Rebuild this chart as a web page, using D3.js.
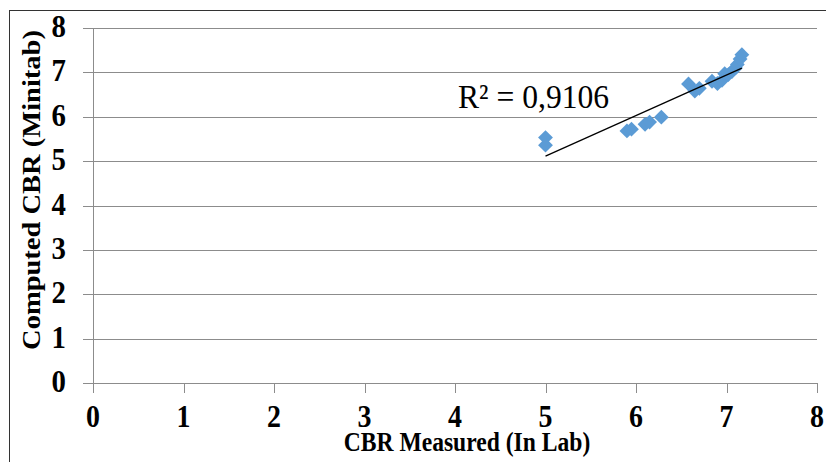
<!DOCTYPE html>
<html>
<head>
<meta charset="utf-8">
<script src="https://cdn.jsdelivr.net/npm/d3@7"></script>
<style>
  html, body { margin: 0; padding: 0; background: #fff; }
  svg { display: block; }
  text { font-family: "Liberation Serif", "Times New Roman", serif; fill: #000; }
</style>
</head>
<body>
<svg id="chart" width="826" height="462"></svg>
<script>
// ---- data ----
const measuredCBR = [5.0, 5.0, 5.9, 5.95, 6.1, 6.15, 6.28, 6.58, 6.65, 6.7, 6.84, 6.9, 6.95, 6.98, 7.02, 7.06, 7.1, 7.12, 7.15, 7.17];
const computedCBR = [5.53, 5.36, 5.68, 5.72, 5.83, 5.88, 5.99, 6.74, 6.58, 6.64, 6.8, 6.75, 6.82, 6.97, 6.95, 7.02, 7.1, 7.18, 7.3, 7.4];
const xTicks = [0, 1, 2, 3, 4, 5, 6, 7, 8];
const yTicks = [0, 1, 2, 3, 4, 5, 6, 7, 8];
const xTitle = "CBR Measured (In Lab)";
const yTitle = "Computed CBR (Minitab)";
const r2Label = "R² = 0,9106";

// ---- layout ----
const svg = d3.select("#chart");
const x = d3.scaleLinear().domain([0, 8]).range([93, 817]);
const y = d3.scaleLinear().domain([0, 8]).range([383, 28]);
const gridColor = "#8c8c8c";
const sx = 0.9; // horizontal condensing of text

// chart border (clipped at right/bottom like the reference)
svg.append("rect").attr("x", 9.5).attr("y", 10.5).attr("width", 900).attr("height", 600)
  .attr("fill", "none").attr("stroke", "#333").attr("stroke-width", 1);

// horizontal gridlines + y ticks
svg.append("g").selectAll("line").data(yTicks).join("line")
  .attr("x1", 83).attr("x2", x(8))
  .attr("y1", d => Math.round(y(d)) + 0.5).attr("y2", d => Math.round(y(d)) + 0.5)
  .attr("stroke", gridColor).attr("stroke-width", 1);

// vertical axis line
svg.append("line").attr("x1", x(0) + 0.5).attr("x2", x(0) + 0.5)
  .attr("y1", y(8)).attr("y2", y(0))
  .attr("stroke", gridColor).attr("stroke-width", 1);

// x ticks
svg.append("g").selectAll("line").data(xTicks).join("line")
  .attr("x1", d => Math.round(x(d)) + 0.5).attr("x2", d => Math.round(x(d)) + 0.5)
  .attr("y1", y(0)).attr("y2", y(0) + 10)
  .attr("stroke", gridColor).attr("stroke-width", 1);

// y tick labels
svg.append("g").selectAll("text").data(yTicks).join("text")
  .attr("transform", d => `translate(66,${y(d) + 9}) scale(${sx},1)`)
  .attr("text-anchor", "end")
  .attr("font-size", 32).attr("font-weight", "bold")
  .text(d => d);

// x tick labels
svg.append("g").selectAll("text").data(xTicks).join("text")
  .attr("transform", d => `translate(${x(d)},427) scale(${sx},1)`)
  .attr("text-anchor", "middle")
  .attr("font-size", 31).attr("font-weight", "bold")
  .text(d => d);

// axis titles
svg.append("text")
  .attr("transform", `translate(467,451) scale(0.89,1)`)
  .attr("text-anchor", "middle").attr("font-size", 26.5).attr("font-weight", "bold")
  .text(xTitle);
svg.append("text")
  .attr("transform", `translate(40,190) scale(0.9,1) rotate(-90)`)
  .attr("text-anchor", "middle").attr("font-size", 28.5).attr("font-weight", "bold")
  .text(yTitle);

// points
const pts = measuredCBR.map((v, i) => ({ x: v, y: computedCBR[i] }));
const sym = d3.symbol().type(d3.symbolSquare).size(110);
svg.append("g").selectAll("path").data(pts).join("path")
  .attr("d", sym)
  .attr("transform", d => `translate(${x(d.x)},${y(d.y)}) rotate(45)`)
  .attr("fill", "#5B9BD5");

// linear trendline (least squares)
const mx = d3.mean(pts, d => d.x), my = d3.mean(pts, d => d.y);
const slope = d3.sum(pts, d => (d.x - mx) * (d.y - my)) / d3.sum(pts, d => (d.x - mx) ** 2);
const icpt = my - slope * mx;
const [xmin, xmax] = d3.extent(pts, d => d.x);
svg.append("line")
  .attr("x1", x(xmin)).attr("y1", y(icpt + slope * xmin))
  .attr("x2", x(xmax)).attr("y2", y(icpt + slope * xmax))
  .attr("stroke", "#000").attr("stroke-width", 1.3);

// R² label
svg.append("text")
  .attr("transform", `translate(458,108) scale(0.93,1)`)
  .attr("font-size", 34)
  .text(r2Label);
</script>
</body>
</html>
